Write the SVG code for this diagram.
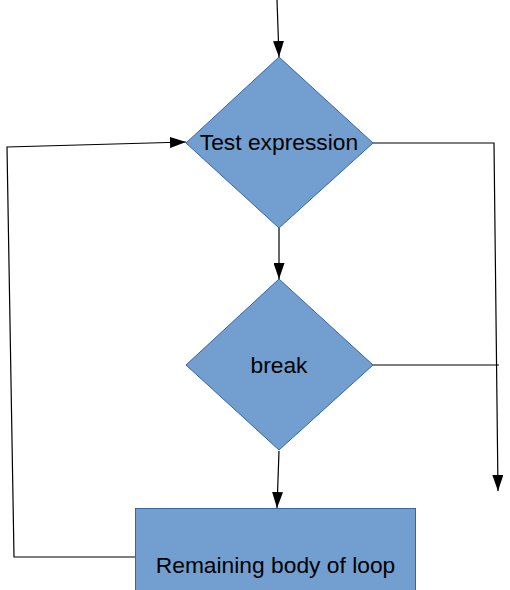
<svg xmlns="http://www.w3.org/2000/svg" width="510" height="590" viewBox="0 0 510 590">
<style>
.shape{fill:#729fcf;stroke:#3465a4;stroke-width:1}
.lbl{font-family:"Liberation Sans",Arial,sans-serif;font-size:22.8px;fill:#000;text-anchor:middle}
.conn{fill:none;stroke:#000;stroke-width:1.2}
</style>
<defs>
<marker id="arr" viewBox="0 0 16 11" refX="16" refY="5.5" markerWidth="16" markerHeight="11" markerUnits="userSpaceOnUse" orient="auto">
<path d="M0,0 L16,5.5 L0,11 Z" fill="#000"/>
</marker>
</defs>
<rect width="510" height="590" fill="#fff"/>
<g id="test">
<polygon class="shape" points="279,57 373,143 279,228 186,143"/>
<text class="lbl" x="279" y="150">Test expression</text>
</g>
<g id="break">
<polygon class="shape" points="279,279 373,365 279,450 186,365"/>
<text class="lbl" x="279" y="373">break</text>
</g>
<g id="body">
<rect class="shape" x="135.5" y="508.5" width="280" height="90"/>
<text class="lbl" x="275.5" y="573">Remaining body of loop</text>
</g>
<g id="connectors">
<path class="conn" d="M277,0 L279,57" marker-end="url(#arr)"/>
<path class="conn" d="M279,228 L279,279" marker-end="url(#arr)"/>
<path class="conn" d="M279,451 L277,508" marker-end="url(#arr)"/>
<path class="conn" d="M373,143 L494,143 L498,491" marker-end="url(#arr)"/>
<path class="conn" d="M373,365 L499,365"/>
<path class="conn" d="M135,557 L14,557 L7,147 L186,142" marker-end="url(#arr)"/>
</g>
</svg>
